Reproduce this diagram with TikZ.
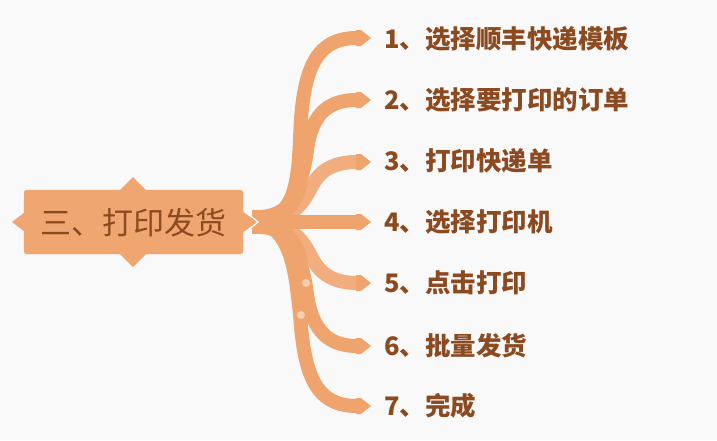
\documentclass[tikz,border=0pt]{standalone}
\usepackage{fontspec}
\newfontfamily\cjk{Noto Sans CJK SC}
\definecolor{bg}{HTML}{FAF9F9}
\definecolor{br}{HTML}{EFA46E}
\definecolor{brl}{HTML}{F1AD7D}
\definecolor{boxc}{HTML}{EFA671}
\definecolor{txt}{HTML}{8B4A1F}
\tikzset{
  branch/.style={draw=br, line width=14pt, line cap=butt},
  branchl/.style={draw=brl, line width=14pt, line cap=butt},
  tip/.style={fill=br},
  item/.style={anchor=west, text=txt, font=\cjk\bfseries\fontsize{25.5}{30}\selectfont, inner sep=0pt},
  dot/.style={fill=white, fill opacity=0.45, draw=none},
}
\begin{document}
\begin{tikzpicture}[x=1pt,y=-1pt]
\useasboundingbox[fill=bg] (0,0) rectangle (717,440);
% root
\coordinate (r) at (252,222);
% branches
\draw[branch] (r) .. controls (292,222) and (298,190) .. (300,140) .. controls (302,70) and (315,38) .. (357,38);
\draw[branch] (r) .. controls (292,222) and (303,180) .. (307,150) .. controls (312,112) and (330,100) .. (357,100);
\draw[branchl] (r) .. controls (296,222) and (304,200) .. (312,186) .. controls (320,170) and (334,162) .. (357,162);
\draw[branch] (r) .. controls (294,222) and (296,282) .. (300,314) .. controls (304,374) and (315,406) .. (357,406);
\draw[branch] (r) .. controls (292,222) and (303,264) .. (307,294) .. controls (312,332) and (330,346) .. (357,346);
\draw[branchl] (r) .. controls (296,222) and (304,244) .. (312,258) .. controls (320,274) and (334,283) .. (357,283);
\draw[branch] (r) -- (357,222);
% thicker trunk near root
\fill[br] (252,210) .. controls (275,212) and (290,200) .. (296,180) -- (308,180) .. controls (306,205) and (290,215) .. (285,222)
  .. controls (290,229) and (306,240) .. (308,264) -- (296,264) .. controls (290,244) and (275,232) .. (252,234) -- cycle;
% arrow tips
\foreach \y/\n in {38/1,100/2,162/3,222/4,283/5,346/6,406/7}{
  \fill[tip] (356,\y-8) -- (361,\y-8) -- (371,\y) -- (361,\y+8) -- (356,\y+8) -- cycle;
  \coordinate (t\n) at (371,\y);
}
% dots
\fill[dot] (306,283) circle (4);
\fill[dot] (301,315) circle (4);
% central box
\fill[boxc] (120,190) -- (133,177) -- (146,190) -- cycle;
\fill[boxc] (120,254) -- (133,267) -- (146,254) -- cycle;
\fill[boxc] (25,212) -- (12,222) -- (25,232) -- cycle;
\draw[boxc, fill=boxc, rounded corners=3pt] (24,190) rectangle (243,254);
\fill[boxc] (242,211) -- (257,222) -- (242,233) -- cycle;
\draw[white, line width=1.2pt] (245,211) -- (258,222) -- (245,233);
\node[text=txt, font=\cjk\fontsize{31}{34}\selectfont, inner sep=0pt] (main) at (133,223) {三、打印发货};
% labels
\node[item] (l1) at (384,39) {1、选择顺丰快递模板};
\node[item] (l2) at (384,100) {2、选择要打印的订单};
\node[item] (l3) at (384,161) {3、打印快递单};
\node[item] (l4) at (384,222) {4、选择打印机};
\node[item] (l5) at (384,283) {5、点击打印};
\node[item] (l6) at (384,346) {6、批量发货};
\node[item] (l7) at (384,406) {7、完成};
\end{tikzpicture}
\end{document}
